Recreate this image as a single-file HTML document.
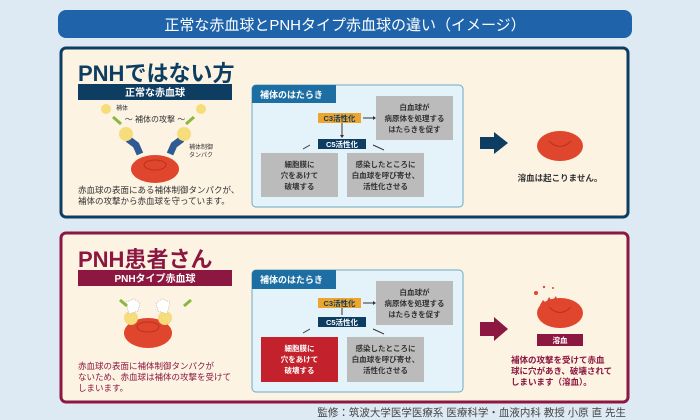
<!DOCTYPE html>
<html><head><meta charset="utf-8"><style>
html,body{margin:0;padding:0;background:#dde9f3;}
svg{display:block;font-family:"Liberation Sans","Noto Sans CJK JP",sans-serif;}
.b{font-weight:bold;}
</style></head><body>
<svg width="700" height="420" viewBox="0 0 700 420" xmlns="http://www.w3.org/2000/svg">
<rect width="700" height="420" fill="#dde9f3"/>
<rect x="58" y="10" width="574" height="28" rx="8" fill="#1f64aa"/>
<text x="345" y="30" font-size="15" fill="#fff" text-anchor="middle">正常な赤血球とPNHタイプ赤血球の違い（イメージ）</text>

<rect x="61" y="48" width="567" height="169" rx="5" fill="#fdf3e3" stroke="#0e3d62" stroke-width="3"/>
<text x="78" y="81" font-size="22" class="b" fill="#0e3d62">PNHではない方</text>
<rect x="78" y="84" width="154" height="16" fill="#0e3d62"/>
<text x="155" y="96" font-size="10" class="b" fill="#fff" text-anchor="middle">正常な赤血球</text>
<circle cx="106" cy="109" r="5" fill="#f6dc7a"/><text x="116" y="110" font-size="6" fill="#333">補体</text>
<circle cx="201" cy="109" r="5" fill="#f6dc7a"/>
<line x1="113" y1="117" x2="121" y2="124" stroke="#8ab83c" stroke-width="3"/>
<line x1="194" y1="117" x2="186" y2="124" stroke="#8ab83c" stroke-width="3"/>
<text x="155" y="122" font-size="8" fill="#333" text-anchor="middle">～ 補体の攻撃 ～</text>
<ellipse cx="155" cy="169" rx="24" ry="14" fill="#e0452e"/>
<ellipse cx="155" cy="165" rx="11" ry="5" fill="none" stroke="#b83220" stroke-width="1"/>
<path d="M128 139 L136 145 L140 154" stroke="#2f5a92" stroke-width="7" fill="none"/>
<path d="M182 139 L174 145 L170 154" stroke="#2f5a92" stroke-width="7" fill="none"/>
<circle cx="126" cy="134" r="7" fill="#f6dc7a"/><circle cx="184" cy="134" r="7" fill="#f6dc7a"/>
<text x="189" y="149" font-size="6" fill="#333">補体制御</text><text x="189" y="157" font-size="6" fill="#333">タンパク</text>
<text x="78" y="193" font-size="8.5" fill="#333">赤血球の表面にある補体制御タンパクが、</text>
<text x="78" y="204" font-size="8.5" fill="#333">補体の攻撃から赤血球を守っています。</text>
<rect x="252" y="85" width="211" height="122" rx="4" fill="#e4f2f9" stroke="#6aaac9" stroke-width="1"/>
<path d="M252 89 a4 4 0 0 1 4 -4 H336 V103 H252 Z" fill="#1d6fa3"/>
<text x="260" y="98" font-size="9" class="b" fill="#fff">補体のはたらき</text>
<rect x="318" y="113" width="43" height="10" fill="#eea52e"/>
<text x="339.5" y="121" font-size="7.5" class="b" fill="#0e3d62" text-anchor="middle">C3活性化</text>
<rect x="318" y="139" width="48" height="10" fill="#0e3d62"/>
<text x="342" y="147" font-size="7.5" class="b" fill="#fff" text-anchor="middle">C5活性化</text>
<line x1="363" y1="118" x2="373" y2="118" stroke="#333" stroke-width="1"/><path d="M373 116 L376 118 L373 120Z" fill="#333"/>
<line x1="342" y1="123" x2="342" y2="136" stroke="#333" stroke-width="1"/><path d="M340 135 L342 138 L344 135Z" fill="#333"/>
<line x1="310" y1="145" x2="303" y2="149" stroke="#333"/><line x1="373" y1="145" x2="384" y2="150" stroke="#333"/>
<rect x="376" y="96" width="77" height="44" fill="#bbbbbb"/>
<text x="414.5" y="110" font-size="7.5" class="b" fill="#333" text-anchor="middle">白血球が</text>
<text x="414.5" y="121" font-size="7.5" class="b" fill="#333" text-anchor="middle">病原体を処理する</text>
<text x="414.5" y="132" font-size="7.5" class="b" fill="#333" text-anchor="middle">はたらきを促す</text>
<rect x="261" y="153" width="77" height="44" fill="#bbbbbb"/>
<text x="299.5" y="167" font-size="7.5" class="b" fill="#333" text-anchor="middle">細胞膜に</text>
<text x="299.5" y="178" font-size="7.5" class="b" fill="#333" text-anchor="middle">穴をあけて</text>
<text x="299.5" y="189" font-size="7.5" class="b" fill="#333" text-anchor="middle">破壊する</text>
<rect x="347" y="153" width="77" height="44" fill="#bbbbbb"/>
<text x="385.5" y="167" font-size="7.5" class="b" fill="#333" text-anchor="middle">感染したところに</text>
<text x="385.5" y="178" font-size="7.5" class="b" fill="#333" text-anchor="middle">白血球を呼び寄せ、</text>
<text x="385.5" y="189" font-size="7.5" class="b" fill="#333" text-anchor="middle">活性化させる</text>
<path d="M480 137 H494 V132 L508 143 L494 154 V149 H480Z" fill="#0e3d62"/>
<ellipse cx="560" cy="146" rx="23" ry="15" fill="#e0452e"/>
<path d="M549 141 Q560 152 571 141" fill="none" stroke="#b83220"/>
<text x="560" y="181" font-size="8.5" class="b" fill="#333" text-anchor="middle">溶血は起こりません。</text>

<rect x="61" y="233" width="567" height="169" rx="5" fill="#fdf3e3" stroke="#8c1740" stroke-width="3"/>
<text x="78" y="267" font-size="22" class="b" fill="#8c1740">PNH患者さん</text>
<rect x="78" y="270" width="154" height="16" fill="#8c1740"/>
<text x="155" y="282" font-size="10" class="b" fill="#fff" text-anchor="middle">PNHタイプ赤血球</text>
<ellipse cx="148" cy="333" rx="24" ry="15" fill="#e0452e"/>
<ellipse cx="148" cy="327" rx="11" ry="5" fill="none" stroke="#b83220"/>
<circle cx="131" cy="318" r="7" fill="#f6dc7a"/><circle cx="165" cy="318" r="7" fill="#f6dc7a"/>
<path d="M126 302 l8 -3 l6 4 l-2 8 l-9 3z" fill="#fff" stroke="#aaa" stroke-dasharray="1 1" stroke-width="0.6"/>
<path d="M170 302 l-8 -3 l-6 4 l2 8 l9 3z" fill="#fff" stroke="#aaa" stroke-dasharray="1 1" stroke-width="0.6"/>
<line x1="120" y1="300" x2="127" y2="306" stroke="#8ab83c" stroke-width="3"/>
<line x1="191" y1="300" x2="184" y2="306" stroke="#8ab83c" stroke-width="3"/>
<text x="78" y="369" font-size="8.5" fill="#8c1740">赤血球の表面に補体制御タンパクが</text>
<text x="78" y="380" font-size="8.5" fill="#8c1740">ないため、赤血球は補体の攻撃を受けて</text>
<text x="78" y="391" font-size="8.5" fill="#8c1740">しまいます。</text>
<rect x="252" y="270" width="211" height="122" rx="4" fill="#e4f2f9" stroke="#6aaac9"/>
<path d="M252 274 a4 4 0 0 1 4 -4 H336 V289 H252 Z" fill="#1d6fa3"/>
<text x="260" y="283" font-size="9" class="b" fill="#fff">補体のはたらき</text>
<rect x="318" y="298" width="43" height="10" fill="#eea52e"/>
<text x="339.5" y="306" font-size="7.5" class="b" fill="#0e3d62" text-anchor="middle">C3活性化</text>
<rect x="318" y="317" width="48" height="10" fill="#0e3d62"/>
<text x="342" y="325" font-size="7.5" class="b" fill="#fff" text-anchor="middle">C5活性化</text>
<line x1="363" y1="303" x2="373" y2="303" stroke="#333"/><path d="M373 301 L376 303 L373 305Z" fill="#333"/>
<line x1="342" y1="308" x2="342" y2="315" stroke="#333"/>
<line x1="310" y1="329" x2="303" y2="333" stroke="#333"/><line x1="373" y1="329" x2="384" y2="334" stroke="#333"/>
<rect x="376" y="281" width="77" height="44" fill="#bbbbbb"/>
<text x="414.5" y="295" font-size="7.5" class="b" fill="#333" text-anchor="middle">白血球が</text>
<text x="414.5" y="306" font-size="7.5" class="b" fill="#333" text-anchor="middle">病原体を処理する</text>
<text x="414.5" y="317" font-size="7.5" class="b" fill="#333" text-anchor="middle">はたらきを促す</text>
<rect x="261" y="337" width="77" height="45" fill="#c3212b"/>
<text x="299.5" y="351" font-size="7.5" class="b" fill="#fff" text-anchor="middle">細胞膜に</text>
<text x="299.5" y="362" font-size="7.5" class="b" fill="#fff" text-anchor="middle">穴をあけて</text>
<text x="299.5" y="373" font-size="7.5" class="b" fill="#fff" text-anchor="middle">破壊する</text>
<rect x="347" y="337" width="77" height="45" fill="#bbbbbb"/>
<text x="385.5" y="351" font-size="7.5" class="b" fill="#333" text-anchor="middle">感染したところに</text>
<text x="385.5" y="362" font-size="7.5" class="b" fill="#333" text-anchor="middle">白血球を呼び寄せ、</text>
<text x="385.5" y="373" font-size="7.5" class="b" fill="#333" text-anchor="middle">活性化させる</text>
<path d="M480 322 H494 V317 L508 329 L494 341 V336 H480Z" fill="#8c1740"/>
<ellipse cx="560" cy="313" rx="23" ry="15" fill="#e0452e"/>
<path d="M540 305 l3 -5 l3 3 l3 -6 l3 4 l4 -5 l2 6 l-14 8z" fill="#e0452e"/>
<circle cx="536" cy="293" r="2" fill="#e0452e"/><circle cx="544" cy="287" r="1.2" fill="#e0452e"/><circle cx="553" cy="288" r="1" fill="#e0452e"/>
<path d="M549 307 Q560 318 571 307" fill="none" stroke="#b83220"/>
<rect x="537" y="334" width="46" height="12" fill="#8c1740"/>
<text x="560" y="343" font-size="7.5" class="b" fill="#fff" text-anchor="middle">溶血</text>
<text x="511" y="363" font-size="8.5" class="b" fill="#8c1740">補体の攻撃を受けて赤血</text>
<text x="511" y="374" font-size="8.5" class="b" fill="#8c1740">球に穴があき、破壊されて</text>
<text x="511" y="385" font-size="8.5" class="b" fill="#8c1740">しまいます（溶血）。</text>

<text x="626" y="416" font-size="10.5" fill="#444" text-anchor="end">監修：筑波大学医学医療系 医療科学・血液内科 教授 小原 直 先生</text>
</svg>
</body></html>
